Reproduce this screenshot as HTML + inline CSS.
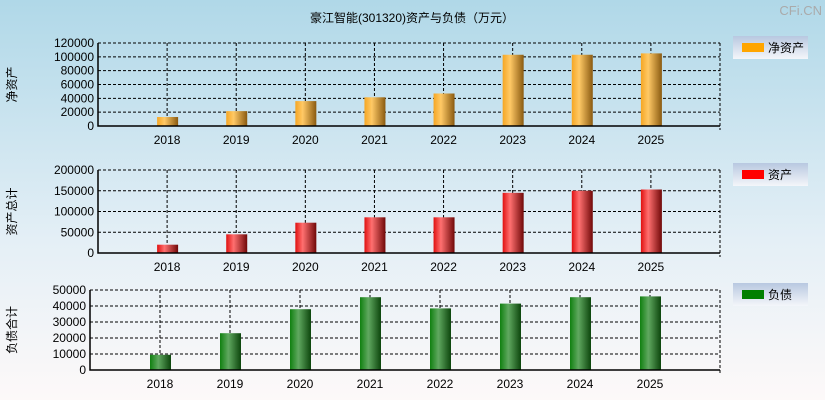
<!DOCTYPE html>
<html><head><meta charset="utf-8"><style>
body{margin:0;width:825px;height:400px;overflow:hidden;font-family:"Liberation Sans","Noto Sans CJK SC",sans-serif;}
</style></head><body>
<svg id="s" width="825" height="400" xmlns="http://www.w3.org/2000/svg">
<defs>
<linearGradient id="bg" x1="0" y1="0" x2="0" y2="1"><stop offset="0" stop-color="#b0d8e8"/><stop offset="0.6" stop-color="#e4eff6"/><stop offset="1" stop-color="#fdf9f9"/></linearGradient>
<linearGradient id="gO" x1="0" x2="1"><stop offset="0" stop-color="#f5a623"/><stop offset="0.35" stop-color="#ffc966"/><stop offset="1" stop-color="#8a5a10"/></linearGradient>
<linearGradient id="gR" x1="0" x2="1"><stop offset="0" stop-color="#e01010"/><stop offset="0.35" stop-color="#ff7070"/><stop offset="1" stop-color="#700808"/></linearGradient>
<linearGradient id="gG" x1="0" x2="1"><stop offset="0" stop-color="#108010"/><stop offset="0.4" stop-color="#60a860"/><stop offset="1" stop-color="#0c450c"/></linearGradient>
<linearGradient id="lg" x1="0" y1="0" x2="0" y2="1"><stop offset="0" stop-color="#b8c8e0"/><stop offset="1" stop-color="#f4f6fa"/></linearGradient>
</defs>
<rect width="825" height="400" fill="url(#bg)"/>
<text x="412" y="22" text-anchor="middle" font-size="12">豪江智能(301320)资产与负债（万元）</text>
<text x="822" y="15" text-anchor="end" font-size="13" fill="#aaa">CFi.CN</text>
</svg>
<script>
const categories=["2018","2019","2020","2021","2022","2023","2024","2025"];
const netAssets=[13000,21500,36000,41500,47000,103000,103000,105000];
const totalAssets=[20000,45000,73000,86000,86000,145000,150000,153000];
const liabilities=[9500,23000,38000,45500,38500,41500,45500,46000];
const ticks1=[0,20000,40000,60000,80000,100000,120000];
const ticks2=[0,50000,100000,150000,200000];
const ticks3=[0,10000,20000,30000,40000,50000];
const svg=document.getElementById('s');
const NS='http://www.w3.org/2000/svg';
function mk(t,a,txt){const e=document.createElementNS(NS,t);for(const k in a)e.setAttribute(k,a[k]);if(txt!=null)e.textContent=txt;svg.appendChild(e);return e;}
const panels=[
 {name:'net-assets',vals:netAssets,ticks:ticks1,max:120000,x0:98,x1:720,y0:43,y1:126,fill:'url(#gO)',lc:'#ffa500',label:'净资产',ytitle:'净资产',ly:36},
 {name:'total-assets',vals:totalAssets,ticks:ticks2,max:200000,x0:98,x1:720,y0:170,y1:253,fill:'url(#gR)',lc:'#ff0000',label:'资产',ytitle:'资产总计',ly:163},
 {name:'liabilities',vals:liabilities,ticks:ticks3,max:50000,x0:90,x1:720,y0:290,y1:370,fill:'url(#gG)',lc:'#008000',label:'负债',ytitle:'负债合计',ly:283}
];
panels.forEach(p=>{
 const step=(p.x1-p.x0)/(categories.length+1);
 const xS=i=>p.x0+step*(i+1);
 const yS=v=>p.y1-(v/p.max)*(p.y1-p.y0);
 p.ticks.forEach(t=>{
  const y=yS(t);
  if(t>0){const l=mk('line',{x1:p.x0,x2:p.x1,y1:y,y2:y,stroke:'#000','stroke-dasharray':'3,2','stroke-width':1});
  }
  const tk=mk('text',{x:p.x0-4,y:y+4,'text-anchor':'end','font-size':12},String(t));
  
 });
 categories.forEach((c,i)=>{
  const x=xS(i);
  const l=mk('line',{x1:x,x2:x,y1:p.y0,y2:p.y1,stroke:'#000','stroke-dasharray':'3,2'});
  
 });
 const r=mk('line',{x1:p.x1,x2:p.x1,y1:p.y0,y2:p.y1+4,stroke:'#000','stroke-dasharray':'3,2'});
 
 p.vals.forEach((v,i)=>{
  const x=xS(i),y=yS(v);
  const b=mk('rect',{x:x-10,y:y,width:21,height:p.y1-y,fill:p.fill});
  
  const t=mk('text',{x:x,y:p.y1+18,'text-anchor':'middle','font-size':12},categories[i]);
  
 });
 const ax=mk('path',{d:`M${p.x0} ${p.y0} V${p.y1} H${p.x1}`,stroke:'#000',fill:'none','stroke-width':1.5});
 
 const yt=mk('text',{x:0,y:0,'font-size':12,'text-anchor':'middle',transform:`translate(16 ${(p.y0+p.y1)/2}) rotate(-90)`},p.ytitle);
 
 const lb=mk('rect',{x:733,y:p.ly,width:75,height:23,fill:'url(#lg)'});
 
 const sw=mk('rect',{x:742,y:p.ly+7,width:22,height:9,fill:p.lc});
 
 const lt=mk('text',{x:768,y:p.ly+16,'font-size':12},p.label);
 
});
</script>
</body></html>
